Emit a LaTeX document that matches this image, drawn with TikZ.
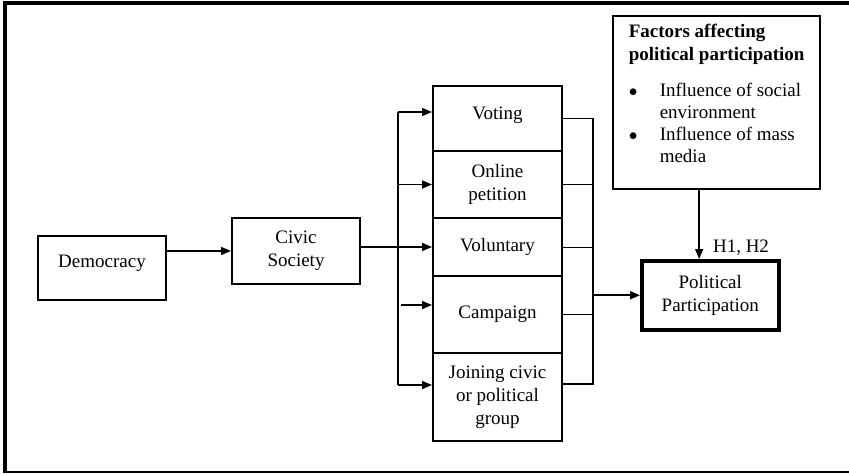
\documentclass[tikz,border=0pt]{standalone}
\usepackage{fontspec}
\setmainfont{Liberation Serif}
\usetikzlibrary{arrows.meta,calc}
\begin{document}
\begin{tikzpicture}[x=1pt,y=-1pt,
  box/.style={draw, line width=2pt, anchor=north west, align=center, inner sep=2pt, font=\fontsize{19}{23}\selectfont},
  arr/.style={line width=1.5pt, -{Triangle[length=10pt,width=8pt]}},
  ln/.style={line width=1.8pt},
  thinln/.style={line width=0.9pt}]
\useasboundingbox (0,0) rectangle (849,474);
% frame
\draw[line width=4pt] (849,3) -- (3,3);
\draw[line width=4pt] (5,1) -- (5,473);
\draw[line width=2pt] (4,472) -- (849,472);
% nodes
\node[box, minimum width=128pt, minimum height=64pt, text depth=14pt] (dem) at (37,235) {Democracy};
\node[box, minimum width=128pt, minimum height=66pt] (civic) at (231,217) {Civic\\Society};
\node[box, minimum width=129pt, minimum height=65pt, text depth=11pt] (vote) at (432,85) {Voting};
\node[box, minimum width=129pt, minimum height=67pt] (online) at (432,150) {Online\\petition};
\node[box, minimum width=129pt, minimum height=58pt] (vol) at (432,217) {Voluntary};
\node[box, minimum width=129pt, minimum height=77pt] (camp) at (432,275) {Campaign};
\node[box, minimum width=129pt, minimum height=88pt] (join) at (432,352) {Joining civic\\or political\\group};
\node[box, line width=3.5pt, minimum width=137pt, minimum height=69pt] (pp) at (640,259) {Political\\Participation};
\node[box, line width=2.3pt, minimum width=207pt, minimum height=173pt, align=left, inner xsep=12pt] (fac) at (612,15)
 {\textbf{Factors affecting}\\\textbf{political participation}\\[13pt]
  \makebox[31pt][l]{$\bullet$}Influence of social\\[-1pt]
  \hspace*{31pt}environment\\[-1pt]
  \makebox[31pt][l]{$\bullet$}Influence of mass\\[-1pt]
  \hspace*{31pt}media\rule[-18pt]{0pt}{1pt}};
\node[font=\fontsize{19}{23}\selectfont, inner sep=0pt] (h) at (741,248) {H1, H2};
% left connectors
\draw[arr] (dem.east |- civic.west) -- (civic.west);
\draw[arr] (civic.east |- vol.west) -- (vol.west);
\coordinate (lbt) at ([xshift=-34pt,yshift=6.5pt]vote.west);
\coordinate (lbb) at ([xshift=-34pt,yshift=12pt]join.west);
\draw[ln] (lbt) -- (lbb);
\draw[arr] (lbt) -- (lbt -| vote.west);
\draw[arr] (lbt |- online.west) -- (online.west);
\draw[arr] ([xshift=-31pt,yshift=9.5pt]camp.west) -- ([yshift=9.5pt]camp.west);
\draw[arr] (lbb) -- (lbb -| join.west);
% right connectors
\coordinate (rbt) at ([xshift=30pt]vote.east);
\coordinate (rbb) at ([xshift=30pt,yshift=13pt]join.east);
\draw[ln] (vote.east) -- (rbt) -- (rbb) -- (rbb -| join.east);
\draw[thinln] (online.east) -- (online.east -| rbt);
\draw[thinln] (vol.east) -- (vol.east -| rbt);
\draw[thinln] (camp.east) -- (camp.east -| rbt);
\draw[arr, line width=2pt] (pp.west -| rbt) -- (pp.west);
% factors arrow
\draw[arr] ([xshift=-17.5pt]fac.south) -- ([xshift=-17.5pt]fac.south |- pp.north);
\end{tikzpicture}
\end{document}
